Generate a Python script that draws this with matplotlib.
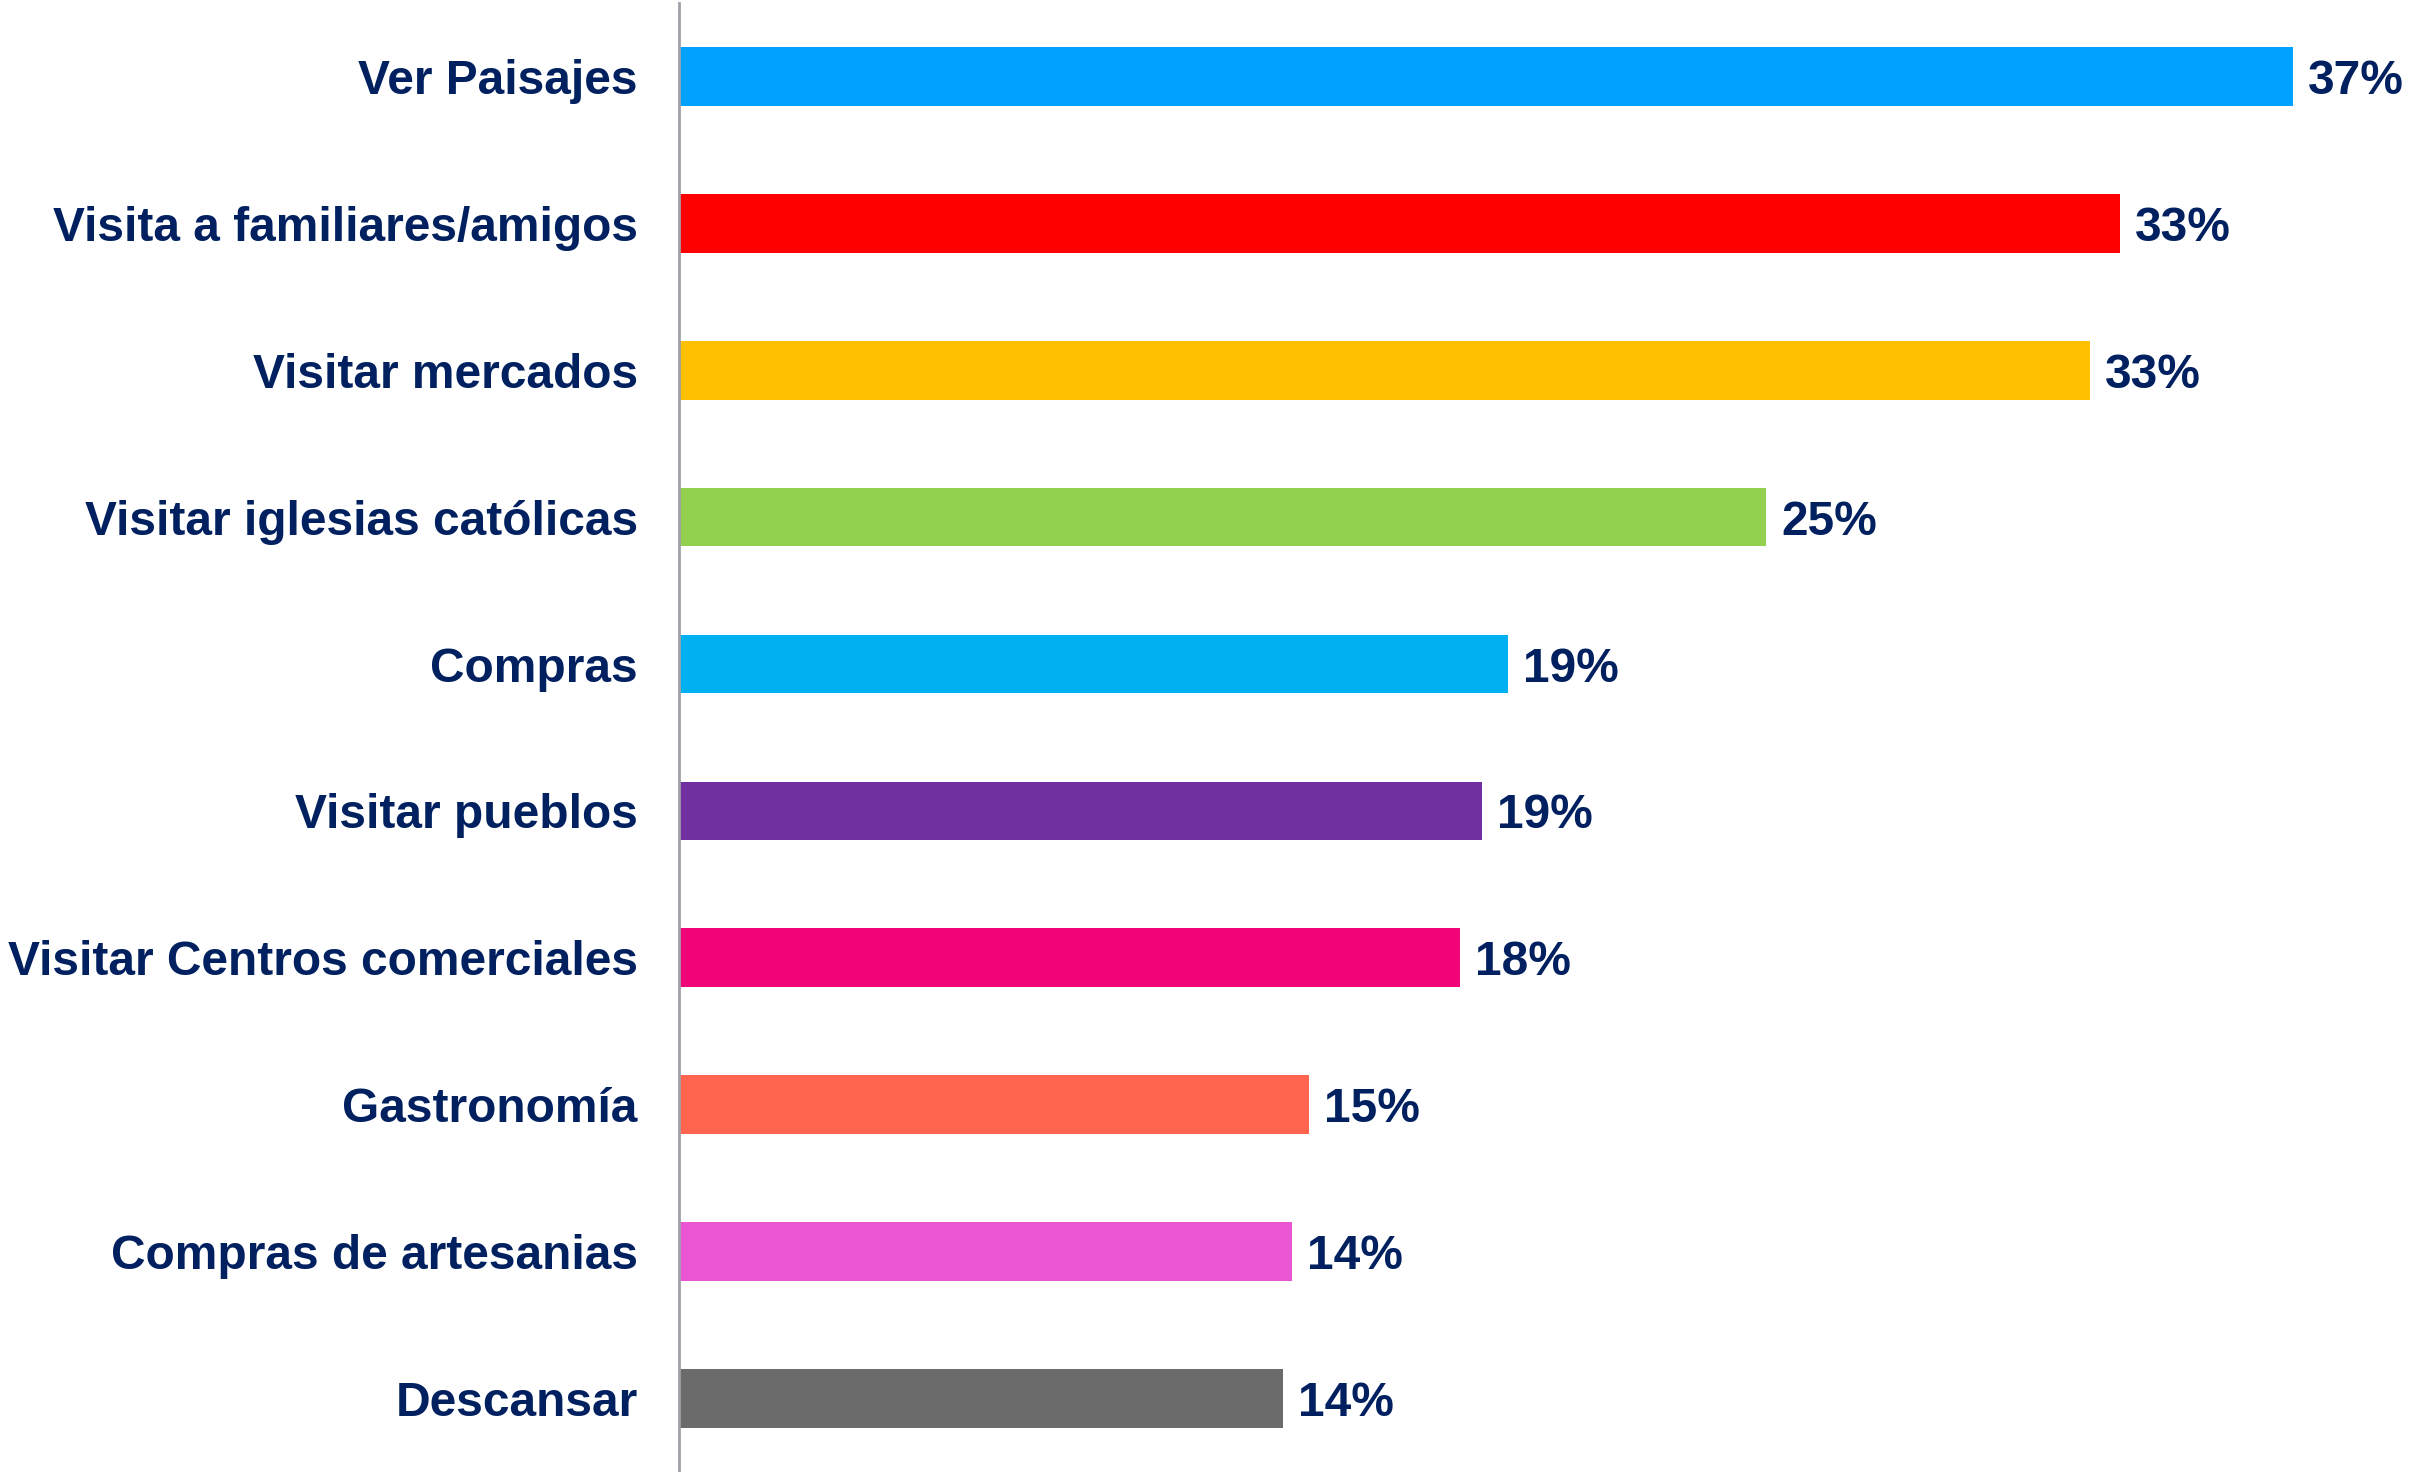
import matplotlib.pyplot as plt

# activities and share of respondents (%)
categories = ['Ver Paisajes', 'Visita a familiares/amigos', 'Visitar mercados',
              'Visitar iglesias católicas', 'Compras', 'Visitar pueblos',
              'Visitar Centros comerciales', 'Gastronomía', 'Compras de artesanias',
              'Descansar']
values = [37.4, 33.4, 32.7, 25.2, 19.2, 18.6, 18.1, 14.6, 14.2, 14.0]
colors = ['#00A2FF', '#FF0000', '#FFC000', '#92D050', '#00B0F0',
          '#7030A0', '#F00478', '#FF644E', '#EA55D4', '#6B6B6B']

navy = '#002060'
plt.rcParams['font.family'] = ['Liberation Sans', 'DejaVu Sans']

fig = plt.figure(figsize=(24.09, 14.72), dpi=100)
ax = fig.add_axes([0.282, 0.0, 0.718, 0.998])

pos = list(range(len(categories)))
ax.barh(pos, values, height=0.4, color=colors)
for y, v in zip(pos, values):
    ax.text(v + 0.35, y, f'{round(v):.0f}%', va='center_baseline', ha='left',
            fontsize=34.5, fontweight='bold', color=navy)

ax.set_ylim(len(categories) - 0.5, -0.5)
ax.set_xlim(0, 40.1)
ax.set_yticks(pos)
ax.set_yticklabels(categories, fontsize=34.5, fontweight='bold', color=navy)
ax.tick_params(axis='y', length=0, pad=30)
ax.set_xticks([])
for s in ['top', 'right', 'bottom']:
    ax.spines[s].set_visible(False)
ax.spines['left'].set_color('#A0A0A8')
ax.spines['left'].set_linewidth(2)

fig.savefig('out.png', dpi=100)
